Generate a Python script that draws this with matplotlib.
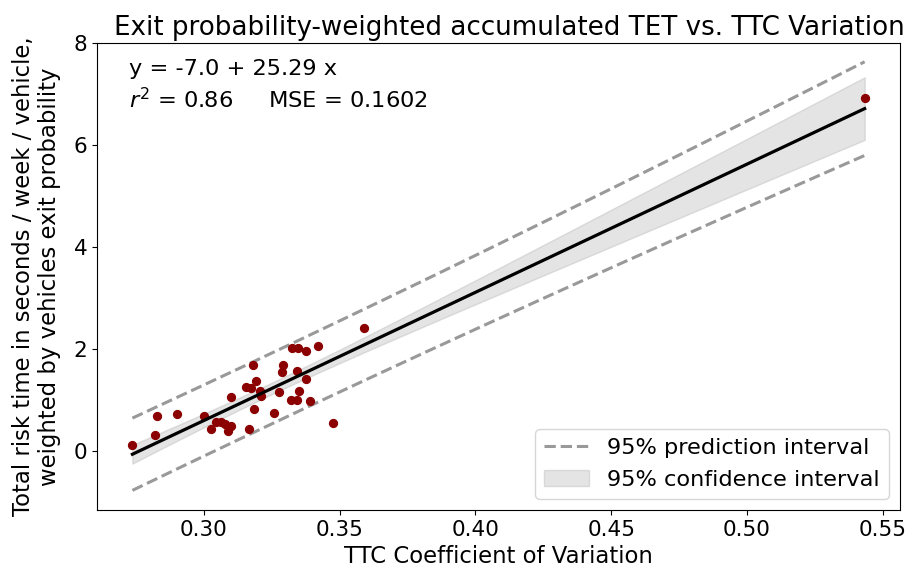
import numpy as np
import matplotlib
matplotlib.use("Agg")
import matplotlib.pyplot as plt

cv = [0.2737, 0.2820, 0.2827, 0.2901, 0.3002, 0.3027, 0.3046, 0.3064, 0.3077, 0.3089,
      0.3099, 0.3101, 0.3167, 0.3181, 0.3157, 0.3173, 0.3191, 0.3206, 0.3212, 0.3185,
      0.3259, 0.3278, 0.3286, 0.3290, 0.3323, 0.3348, 0.3375, 0.3419, 0.3344, 0.3376,
      0.3352, 0.3321, 0.3342, 0.3391, 0.3477, 0.3589, 0.5433]
risk = [0.12, 0.30, 0.69, 0.72, 0.69, 0.42, 0.56, 0.56, 0.52, 0.38,
        0.49, 1.05, 0.43, 1.69, 1.25, 1.24, 1.36, 1.18, 1.08, 0.81,
        0.75, 1.16, 1.55, 1.69, 2.02, 2.02, 1.96, 2.05, 1.56, 1.41,
        1.17, 1.00, 1.00, 0.98, 0.55, 2.41, 6.92]
eq_text = "y = -7.0 + 25.29 x\n$r^2$ = 0.86     MSE = 0.1602"

x = np.array(cv)
y = np.array(risk)
n = len(x)
b1, b0 = np.polyfit(x, y, 1)
resid = y - (b0 + b1 * x)
s2 = np.sum(resid ** 2) / (n - 2)
t = 1.645
xs = np.linspace(x.min(), x.max(), 200)
yh = b0 + b1 * xs
sxx = np.sum((x - x.mean()) ** 2)
se_ci = np.sqrt(s2 * (1 / n + (xs - x.mean()) ** 2 / sxx))
se_pi = np.sqrt(s2 * (1 + 1 / n + (xs - x.mean()) ** 2 / sxx))

fig, ax = plt.subplots(figsize=(9.16, 5.82), dpi=100)
fig.subplots_adjust(left=0.106, right=0.9825, top=0.926, bottom=0.124)

ax.scatter(x, y, color="#8b0000", s=32, zorder=3)
ax.plot(xs, yh, color="black", lw=2.3, zorder=4)
ci = ax.fill_between(xs, yh - t * se_ci, yh + t * se_ci, color="lightgray", alpha=0.6,
                     edgecolor="#c8c8c8", label="95% confidence interval", zorder=2)
pi, = ax.plot(xs, yh + t * se_pi, color="#999999", ls="--", lw=2.2,
              label="95% prediction interval", zorder=2)
ax.plot(xs, yh - t * se_pi, color="#999999", ls="--", lw=2.2, zorder=2)

ax.set_xlim(0.2607, 0.5563)
ax.set_ylim(-1.16, 8.0)
ax.set_xticks([0.30, 0.35, 0.40, 0.45, 0.50, 0.55])
ax.set_yticks([0, 2, 4, 6, 8])
ax.tick_params(labelsize=15.5)
ax.set_xlabel("TTC Coefficient of Variation", fontsize=16.4)
ax.set_ylabel("Total risk time in seconds / week / vehicle,\nweighted by vehicles exit probability",
              fontsize=16.4, labelpad=9)
ax.set_title("Exit probability-weighted accumulated TET vs. TTC Variation", fontsize=18.8, x=0.513)
ax.text(0.04, 0.965, eq_text, transform=ax.transAxes, fontsize=16.2, va="top", linespacing=1.35)
ax.legend(handles=[pi, ci], loc="lower right", fontsize=16.2)

fig.savefig("out.png", dpi=100)
